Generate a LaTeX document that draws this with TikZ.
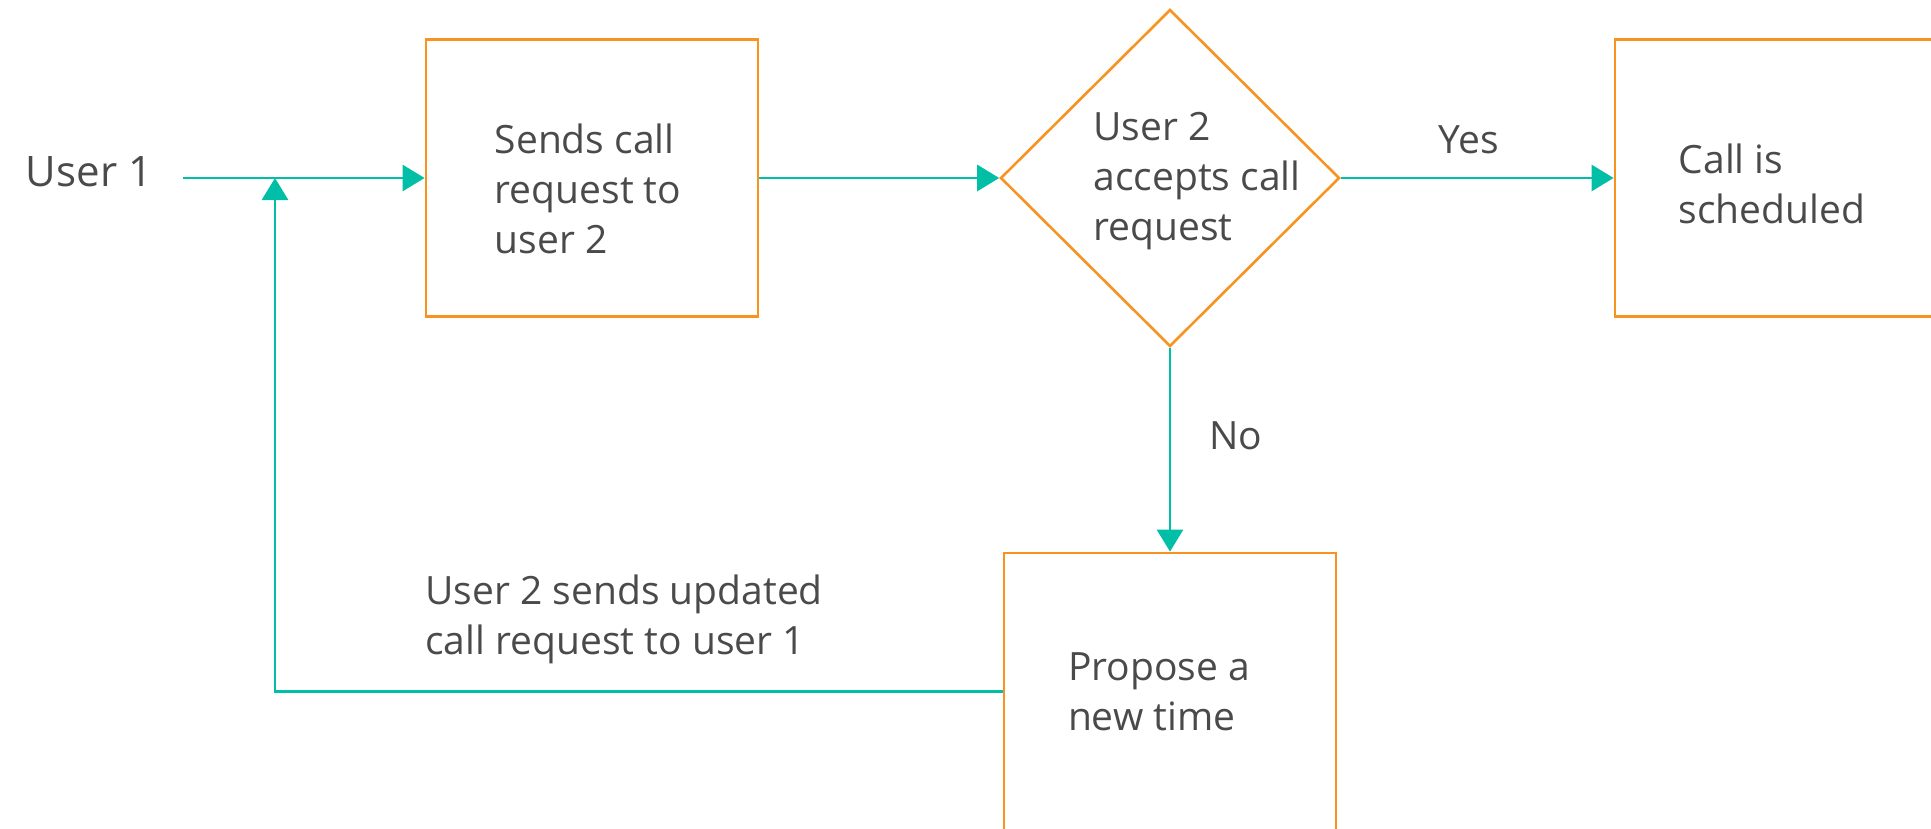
\documentclass[tikz,border=0pt]{standalone}
\usepackage{fontspec}
\setmainfont{Open Sans}
\usetikzlibrary{arrows.meta,shapes.geometric}
\definecolor{teal1}{HTML}{00BFA6}
\definecolor{orange1}{HTML}{F7931E}
\definecolor{txt}{HTML}{4A4A4A}
\tikzset{
  box/.style={draw=orange1, line width=1.4pt, minimum width=166pt, minimum height=138.5pt, inner sep=0pt},
  dia/.style={draw=orange1, line width=1.3pt, diamond, minimum width=169.5pt, minimum height=168.5pt, inner sep=0pt},
  lbl/.style={text=txt, font=\fontsize{19.5pt}{25pt}\selectfont, align=left, inner sep=0pt},
  conn/.style={draw=teal1, line width=1.4pt, -{Triangle[length=11pt,width=13pt]}, color=teal1}
}
\begin{document}
\begin{tikzpicture}[x=0.5pt,y=-0.5pt]
\useasboundingbox (0,0) rectangle (1931,829);
\node[lbl, font=\fontsize{21pt}{25pt}\selectfont, inner xsep=15pt] (u1) at (89,172) {User 1};
\coordinate (j) at (275,178);
\node[box] (b1) at (592,178) {};
\node[lbl] (b1t) at (588,189) {Sends call\\request to\\user 2};
\node[dia] (d) at (1170,178) {};
\node[lbl] (dt) at (1197,181) {User 2\\accepts call\\request};
\node[box] (b3) at (1781,178) {};
\node[lbl] (b3t) at (1772,184) {Call is\\scheduled};
\node[box] (b4) at (1170,691.5) {};
\node[lbl] (b4t) at (1159,691.5) {Propose a\\new time};
\node[lbl] (yes) at (1469,140) {Yes};
\node[lbl] (no) at (1236,436) {No};
\node[lbl, anchor=west] (fb) at (425,619) {User 2 sends updated\\call request to user 1};
\draw[conn] (u1.east |- b1.west) -- (b1.west);
\draw[conn] (b1.east) -- (d.west);
\draw[conn] (d.east) -- (b3.west);
\draw[conn] (d.south) -- (b4.north);
\draw[conn] (b4.west) -| (j);
\end{tikzpicture}
\end{document}
